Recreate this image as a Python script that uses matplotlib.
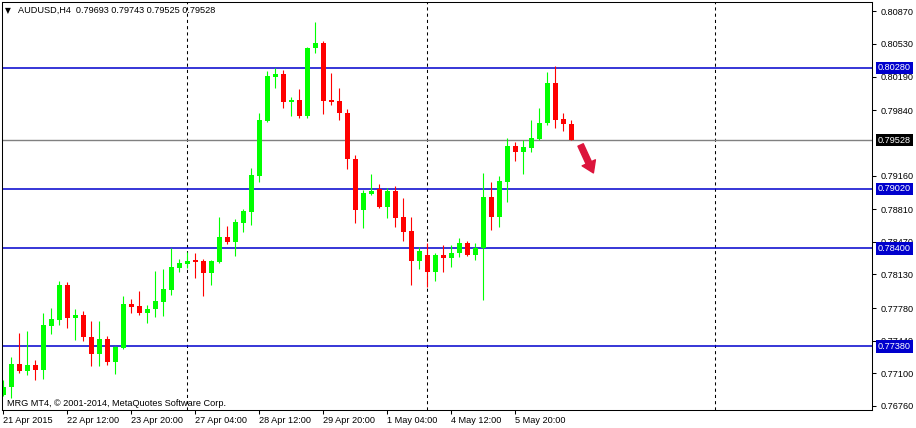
import numpy as np
import matplotlib
matplotlib.use("Agg")
import matplotlib.pyplot as plt

##### data #####
symbol = "AUDUSD,H4"
opens = [0.76874, 0.76958, 0.77197, 0.77124, 0.77187, 0.77135, 0.77593, 0.77655, 0.78020, 0.77676,
         0.77708, 0.77479, 0.77301, 0.77458, 0.77218, 0.77364, 0.77822, 0.77801, 0.77728, 0.77770,
         0.77843, 0.77968, 0.78197, 0.78239, 0.78280, 0.78270, 0.78145, 0.78260, 0.78520, 0.78468,
         0.78666, 0.78780, 0.79155, 0.79728, 0.80186, 0.80217, 0.79926, 0.79947, 0.79780, 0.80488,
         0.80540, 0.79947, 0.79936, 0.79811, 0.79332, 0.78801, 0.78968, 0.79020, 0.78832, 0.78999,
         0.78728, 0.78582, 0.78270, 0.78332, 0.78155, 0.78332, 0.78301, 0.78353, 0.78457, 0.78332,
         0.78405, 0.78936, 0.78728, 0.79093, 0.79468, 0.79405, 0.79447, 0.79541, 0.79707, 0.80124,
         0.79749, 0.79693]
highs = [0.77031, 0.77270, 0.77520, 0.77541, 0.77239, 0.77728, 0.77780, 0.78062, 0.78051, 0.77770,
         0.77749, 0.77645, 0.77645, 0.77489, 0.77385, 0.77906, 0.77874, 0.77958, 0.77812, 0.78166,
         0.78187, 0.78405, 0.78291, 0.78364, 0.78353, 0.78291, 0.78280, 0.78728, 0.78634, 0.78707,
         0.78812, 0.79238, 0.79811, 0.80249, 0.80280, 0.80259, 0.79978, 0.80061, 0.80499, 0.80759,
         0.80561, 0.80228, 0.80072, 0.79853, 0.79374, 0.79009, 0.79176, 0.79072, 0.79030, 0.79051,
         0.78926, 0.78728, 0.78416, 0.78457, 0.78353, 0.78437, 0.78437, 0.78510, 0.78478, 0.78457,
         0.79186, 0.79093, 0.79155, 0.79551, 0.79509, 0.79530, 0.79738, 0.79863, 0.80238, 0.80301,
         0.79811, 0.79743]
lows = [0.76864, 0.76843, 0.77104, 0.77083, 0.77031, 0.77041, 0.77510, 0.77603, 0.77572, 0.77447,
        0.77437, 0.77177, 0.77177, 0.77187, 0.77093, 0.77354, 0.77728, 0.77708, 0.77624, 0.77687,
        0.77697, 0.77916, 0.78155, 0.78197, 0.78093, 0.77906, 0.78020, 0.78249, 0.78447, 0.78322,
        0.78572, 0.78645, 0.79093, 0.79718, 0.80072, 0.79863, 0.79780, 0.79759, 0.79759, 0.80436,
        0.79801, 0.79895, 0.79738, 0.79228, 0.78666, 0.78614, 0.78957, 0.78822, 0.78718, 0.78624,
        0.78478, 0.78020, 0.78187, 0.77999, 0.78062, 0.78155, 0.78208, 0.78312, 0.78322, 0.78280,
        0.77864, 0.78593, 0.78624, 0.78884, 0.79311, 0.79176, 0.79405, 0.79530, 0.79686, 0.79655,
        0.79624, 0.79525]
closes = [0.76958, 0.77197, 0.77124, 0.77187, 0.77135, 0.77603, 0.77666, 0.78020, 0.77676, 0.77708,
          0.77479, 0.77301, 0.77458, 0.77218, 0.77374, 0.77822, 0.77791, 0.77728, 0.77770, 0.77853,
          0.77978, 0.78208, 0.78249, 0.78270, 0.78260, 0.78145, 0.78270, 0.78520, 0.78468, 0.78676,
          0.78791, 0.79166, 0.79738, 0.80197, 0.80217, 0.79926, 0.79947, 0.79780, 0.80488, 0.80540,
          0.79936, 0.79926, 0.79811, 0.79332, 0.78801, 0.78978, 0.78999, 0.78832, 0.78999, 0.78718,
          0.78572, 0.78270, 0.78374, 0.78155, 0.78332, 0.78301, 0.78353, 0.78457, 0.78332, 0.78405,
          0.78936, 0.78728, 0.79103, 0.79468, 0.79405, 0.79457, 0.79551, 0.79707, 0.80124, 0.79738,
          0.79697, 0.79528]

date_ticks = [0, 8, 16, 24, 32, 40, 48, 56, 64]
date_labels = ["21 Apr 2015", "22 Apr 12:00", "23 Apr 20:00", "27 Apr 04:00", "28 Apr 12:00",
               "29 Apr 20:00", "1 May 04:00", "4 May 12:00", "5 May 20:00"]
# 0.79500 sits under the bid label in MT4 and is not visible, so it is left out
price_ticks = [0.80870, 0.80530, 0.80190, 0.79840, 0.79160, 0.78810,
               0.78470, 0.78130, 0.77780, 0.77440, 0.77100, 0.76760]
levels = [0.80280, 0.79020, 0.78400, 0.77380]
bid = 0.79528
separators = [23, 53, 89]
arrow_from = (72.2, 0.79478)
arrow_to = (73.8, 0.79187)

##### style #####
plt.rcParams['font.family'] = ['Liberation Sans', 'DejaVu Sans']
FS = 6.6
BULL = "#00FF00"
BEAR = "#FF0000"
LEVEL = "#0000CD"

o = np.array(opens)
c = np.array(closes)
x = np.arange(len(o))
cols = [BULL if cc >= oo else BEAR for oo, cc in zip(o, c)]

fig = plt.figure(figsize=(9.16, 4.28), dpi=100)
ax = fig.add_axes([2 / 916, 18 / 428, 870 / 916, 408 / 428])
ax.set_xlim(-0.125, 108.625)
ax.set_ylim(0.76718, 0.80967)

# period separators
for s in separators:
    ax.axvline(s, color="black", lw=0.75, linestyle=(0, (3, 3)), zorder=1)

# horizontal levels + bid line
for lv in levels:
    ax.axhline(lv, color=LEVEL, lw=1.1, zorder=1.5)
ax.axhline(bid, color="#808080", lw=1.0, zorder=1.5)

# candles
ax.vlines(x, lows, highs, colors=cols, lw=0.8, zorder=2)
ax.bar(x, np.maximum(np.abs(c - o), 0.00008), 0.625, bottom=np.minimum(o, c),
       color=cols, linewidth=0, zorder=2.2)

# arrow
ax.annotate("", xy=arrow_to, xytext=arrow_from,
            arrowprops=dict(arrowstyle="simple,head_length=0.8,head_width=1.05,tail_width=0.42",
                            color="#DC143C", shrinkA=0, shrinkB=0, mutation_scale=10), zorder=3)

##### axes #####
for sp in ax.spines.values():
    sp.set_color("black")
    sp.set_linewidth(0.75)

ax.yaxis.tick_right()
ax.set_yticks(price_ticks, [f"{p:.5f}" for p in price_ticks])
ax.tick_params(axis="y", direction="out", length=3, width=0.75, pad=3, labelsize=FS)
ax.set_xticks(date_ticks, date_labels)
for lab in ax.get_xticklabels():
    lab.set_horizontalalignment("left")
ax.tick_params(axis="x", direction="out", length=3, width=0.75, pad=1.5, labelsize=FS)

# highlighted price labels on the scale
for lv in levels:
    ax.annotate(f"{lv:.5f}", xy=(1, lv), xycoords=("axes fraction", "data"),
                xytext=(6, 0), textcoords="offset pixels", va="center", ha="left",
                color="white", fontsize=FS, annotation_clip=False, zorder=5,
                bbox=dict(boxstyle="square,pad=0.18", fc=LEVEL, ec="none"))
ax.annotate(f"{bid:.5f}", xy=(1, bid), xycoords=("axes fraction", "data"),
            xytext=(6, 0), textcoords="offset pixels", va="center", ha="left",
            color="white", fontsize=FS, annotation_clip=False, zorder=5,
            bbox=dict(boxstyle="square,pad=0.18", fc="black", ec="none"))

# header and watermark
ax.text(3 / 870, 1 - 8.5 / 408, "\u25bc", transform=ax.transAxes, fontsize=5.5,
        family="DejaVu Sans", va="center", ha="left")
ax.text(16 / 870, 1 - 8.5 / 408,
        f"{symbol}  {opens[-1]:.5f} {highs[-1]:.5f} {lows[-1]:.5f} {closes[-1]:.5f}",
        transform=ax.transAxes, fontsize=FS, va="center", ha="left")
ax.text(5 / 870, 7 / 408, "MRG MT4, \u00a9 2001-2014, MetaQuotes Software Corp.",
        transform=ax.transAxes, fontsize=FS, va="center", ha="left")

fig.savefig("out.png", dpi=100)
